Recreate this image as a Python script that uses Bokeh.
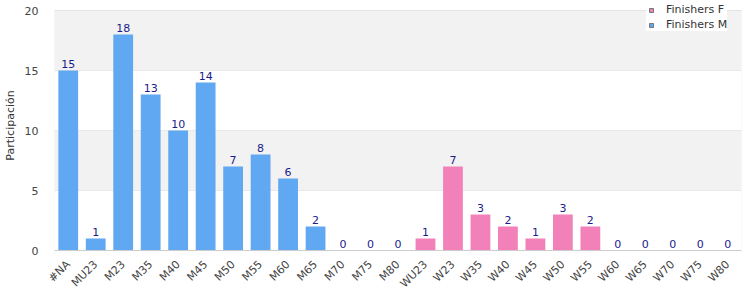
import math
from bokeh.plotting import figure
from bokeh.models import ColumnDataSource, FactorRange, Legend, LegendItem, BoxAnnotation, LabelSet, Range1d
from bokeh.core.properties import value
from bokeh.embed import file_html
from bokeh.resources import INLINE

categories = ["#NA", "MU23", "M23", "M35", "M40", "M45", "M50", "M55", "M60", "M65",
              "M70", "M75", "M80", "WU23", "W23", "W35", "W40", "W45", "W50", "W55",
              "W60", "W65", "W70", "W75", "W80"]
values = [15, 1, 18, 13, 10, 14, 7, 8, 6, 2,
          0, 0, 0, 1, 7, 3, 2, 1, 3, 2,
          0, 0, 0, 0, 0]
series = ["M"] * 13 + ["F"] * 12
y_ticks = [0, 5, 10, 15, 20]

BLUE = "#60a8f2"
PINK = "#f381b9"
FONT = "DejaVu Sans"

# frame spans y=0..250 px; axis max 20 sits 10 px below the top so the legend can rise above it
Y_MAX = 20
y_top = Y_MAX * 250 / 240

p = figure(width=750, height=300, x_range=FactorRange(*categories, range_padding=0),
           y_range=Range1d(0, y_top), output_backend="svg", toolbar_location=None,
           min_border_left=51, min_border_right=9, min_border_top=0, min_border_bottom=50)
p.background_fill_color = "white"
p.outline_line_color = None
p.grid.grid_line_color = None
p.ygrid.grid_line_color = "#e0e0e0"
p.ygrid.grid_line_width = 1

for lo, hi in [(5, 10), (15, 20)]:
    p.add_layout(BoxAnnotation(bottom=lo, top=hi, fill_color="#f2f2f2", fill_alpha=1, line_color=None, level="underlay"))
# plot-area border
p.add_layout(BoxAnnotation(bottom=0, top=Y_MAX, fill_alpha=0, line_color="#d8d8d8", line_width=1, level="underlay"))

m_src = ColumnDataSource(dict(x=[c for c, s in zip(categories, series) if s == "M"],
                              y=[v for v, s in zip(values, series) if s == "M"]))
f_src = ColumnDataSource(dict(x=[c for c, s in zip(categories, series) if s == "F"],
                              y=[v for v, s in zip(values, series) if s == "F"]))
p.vbar(x="x", top="y", width=0.72, source=m_src, fill_color=BLUE, line_color=None)
p.vbar(x="x", top="y", width=0.72, source=f_src, fill_color=PINK, line_color=None)

all_src = ColumnDataSource(dict(x=categories, y=values, t=[str(v) for v in values]))
labels = LabelSet(x="x", y="y", text="t", source=all_src, text_align="center",
                  text_baseline="bottom", y_offset=3, text_font_size="11px",
                  text_color="#1c1c8a", text_font=value(FONT))
p.add_layout(labels)

# legend-only markers, placed below the visible y range
rf = p.scatter(x=[categories[0]], y=[-50], marker="square", size=9, fill_color=PINK, line_color="#777777")
rm = p.scatter(x=[categories[0]], y=[-50], marker="square", size=9, fill_color=BLUE, line_color="#777777")
legend = Legend(items=[LegendItem(label="Finishers F", renderers=[rf]),
                       LegendItem(label="Finishers M", renderers=[rm])],
                location=(592, 219), label_text_font=FONT, label_text_font_size="11px",
                label_text_color="#333333", glyph_width=10, glyph_height=10,
                label_height=12, spacing=2, padding=4, margin=0,
                border_line_color=None, background_fill_color="white", background_fill_alpha=1,
                label_standoff=10)
p.add_layout(legend)

p.yaxis.axis_label = "Participación"
p.yaxis.axis_label_text_font = FONT
p.yaxis.axis_label_text_font_style = "normal"
p.yaxis.axis_label_text_font_size = "11px"
p.yaxis.axis_label_text_color = "#333333"
p.yaxis.ticker = y_ticks
p.yaxis.axis_line_color = None
p.yaxis.major_tick_line_color = None
p.yaxis.minor_tick_line_color = None
p.yaxis.major_label_text_font = FONT
p.yaxis.major_label_text_font_size = "11px"
p.yaxis.major_label_text_color = "#444444"
p.yaxis.major_label_standoff = 10

p.xaxis.axis_line_color = "#cccccc"
p.xaxis.major_tick_line_color = None
p.xaxis.minor_tick_line_color = None
p.xaxis.major_label_orientation = math.pi / 4
p.xaxis.major_label_text_font = FONT
p.xaxis.major_label_text_font_size = "11px"
p.xaxis.major_label_text_color = "#444444"
p.xaxis.major_label_standoff = 6

open("out.html", "w").write(file_html(p, INLINE))
